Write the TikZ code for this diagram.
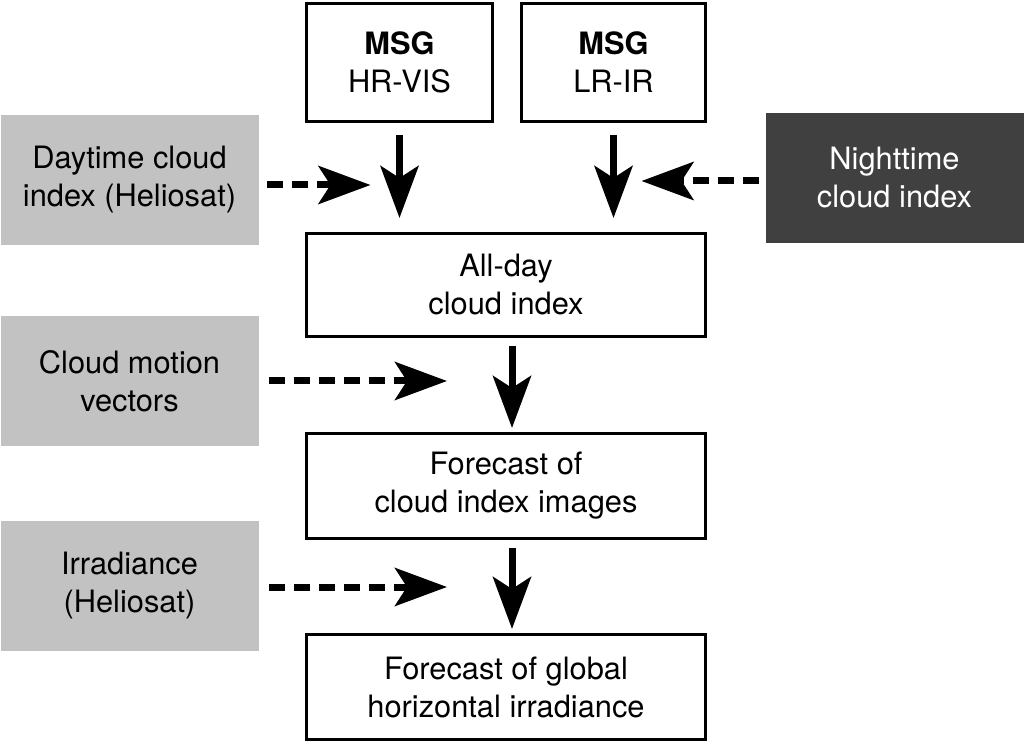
\documentclass[tikz,border=0pt]{standalone}
\usepackage{fontspec}
\setmainfont{TeX Gyre Heros}
\usepackage{tikz}
\usetikzlibrary{arrows.meta,calc,positioning}

\begin{document}
\begin{tikzpicture}[x=1pt,y=-1pt,font=\fontsize{15.4}{19}\selectfont]
\tikzset{bx/.style={draw,line width=1.5pt,align=center,inner sep=0pt},gb/.style={fill=black!24,align=center,inner sep=0pt,minimum width=129pt,minimum height=65pt},
 arr/.style={line width=3.5pt,-{Stealth[length=26pt,width=19pt,inset=6pt]}},darr/.style={arr,dash pattern=on 8pt off 4.5pt}}
\useasboundingbox (0,0) rectangle (512,371.5);
\node[bx,minimum width=93pt,minimum height=59pt] (hrvis) at (199.75,31.25) {\textbf{MSG}\\HR-VIS}; \node[bx,minimum width=92pt,minimum height=59pt] (lrir) at (306.75,31.25) {\textbf{MSG}\\LR-IR};
\node[gb] (day) at (64.75,90) {Daytime cloud\\index (Heliosat)}; \node[gb,fill=black!75,text=white] (night) at (447.25,89) {Nighttime\\cloud index};
\node[bx,minimum width=199.5pt,minimum height=51.5pt] (allday) at (253,142.5) {All-day\\cloud index};
\node[gb] (cmv) at (64.75,190.5) {Cloud motion\\vectors};
\node[bx,minimum width=199.5pt,minimum height=52.5pt] (fcloud) at (253,243) {Forecast of\\cloud index images};
\node[gb] (irr) at (64.75,293) {Irradiance\\(Heliosat)};
\node[bx,minimum width=199.5pt,minimum height=52.5pt] (ghi) at (253,343.5) {Forecast of global\\horizontal irradiance};
\draw[arr,shorten <=6pt,shorten >=7pt](hrvis.south)--(hrvis.south|-allday.north); \draw[arr,shorten <=6pt,shorten >=7pt](lrir.south)--(lrir.south|-allday.north);
\draw[darr,shorten <=4pt,shorten >=14.5pt]([yshift=-2.5pt]day.east)--([yshift=-2.5pt]day.east-|hrvis.south);
\draw[darr,shorten <=3pt,shorten >=14pt]([yshift=-1.5pt]night.west)--([yshift=-1.5pt]night.west-|lrir.south);
\draw[arr,shorten <=4pt,shorten >=2pt]([xshift=3pt]allday.south)--([xshift=3pt]allday.south|-fcloud.north);
\draw[darr,shorten <=5pt,shorten >=32.5pt](cmv.east)--([xshift=3pt]cmv.east-|fcloud.north);
\draw[arr,shorten <=4pt,shorten >=2pt]([xshift=3pt]fcloud.south)--([xshift=3pt]fcloud.south|-ghi.north);
\draw[darr,shorten <=5pt,shorten >=32.5pt]([yshift=-0.5pt]irr.east)--([xshift=3pt,yshift=-0.5pt]irr.east-|ghi.north);
\end{tikzpicture}
\end{document}
